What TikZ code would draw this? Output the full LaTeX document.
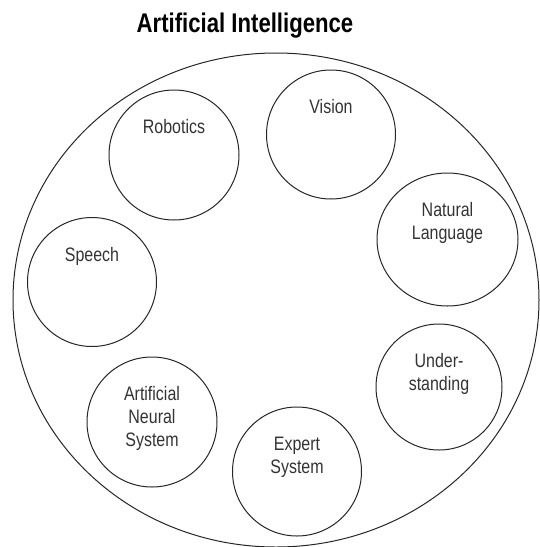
\documentclass[tikz,border=0pt]{standalone}
\usepackage{fontspec}
\setmainfont{Liberation Sans}[FakeStretch=0.82]
\usetikzlibrary{shapes.geometric}

\begin{document}
\begin{tikzpicture}[x=1pt,y=-1pt,
    topic/.style={draw=black!85,line width=1pt,circle,inner sep=0pt},
    tag/.style={anchor=north,align=center,inner sep=0pt,text=black!80,
      font=\fontsize{19.5}{23}\selectfont}]
    \useasboundingbox (0,0) rectangle (539,547);
    \node[anchor=base,inner sep=0pt,font=\fontsize{27}{30}\selectfont\bfseries] (title) at (245,32) {Artificial Intelligence};
    \node[draw=black!85,line width=1pt,ellipse,inner sep=0pt,minimum width=526pt,minimum height=494pt] (ai) at (276,300) {};
      \node[topic,minimum size=130pt] (rob) at (174,155) {};
      \node[tag] (robt) at ([yshift=-30pt]rob.north) {Robotics};
      \node[topic,minimum size=129pt] (vis) at (331,134.5) {};
      \node[tag] (vist) at ([yshift=-30pt]vis.north) {Vision};
      \node[topic,ellipse,minimum width=141pt,minimum height=133pt] (nat) at (447.5,239.5) {};
      \node[tag] (natt) at ([yshift=-30pt]nat.north) {Natural\\Language};
      \node[topic,minimum size=129pt] (spe) at (92,282) {};
      \node[tag] (spet) at ([yshift=-30pt]spe.north) {Speech};
      \node[topic,minimum size=126pt] (und) at (439,387) {};
      \node[tag] (undt) at ([yshift=-30pt]und.north) {Under-\\standing};
      \node[topic,minimum size=130pt] (ans) at (152,422) {};
      \node[tag] (anst) at ([yshift=-30pt]ans.north) {Artificial\\Neural\\System};
      \node[topic,minimum size=129pt] (exp) at (297,471.5) {};
      \node[tag] (expt) at ([yshift=-30pt]exp.north) {Expert\\System};
  \end{tikzpicture}
\end{document}
